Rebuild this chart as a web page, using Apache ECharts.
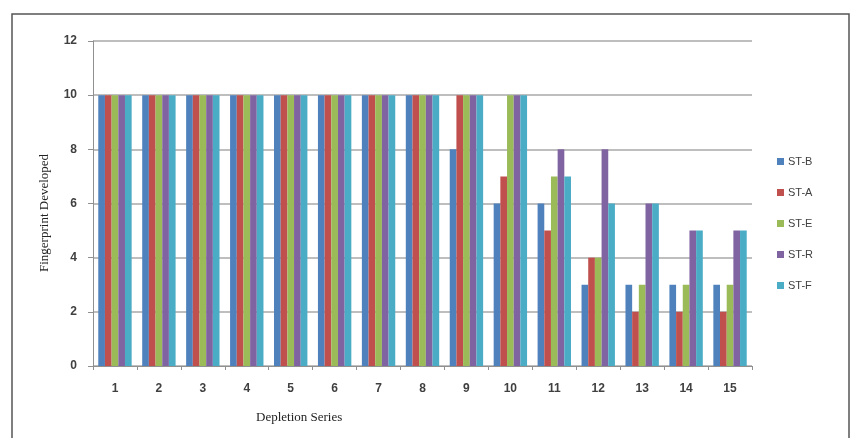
<!DOCTYPE html>
<html><head><meta charset="utf-8">
<script src="https://cdn.jsdelivr.net/npm/echarts@6/dist/echarts.min.js"></script>
<style>html,body{margin:0;padding:0;background:#fff}#c{width:854px;height:438px}</style>
</head><body><div id="c"></div>
<script>
const categories = ['1','2','3','4','5','6','7','8','9','10','11','12','13','14','15'];
const seriesNames = ['ST-B','ST-A','ST-E','ST-R','ST-F'];
const stB = [10,10,10,10,10,10,10,10,8,6,6,3,3,3,3];
const stA = [10,10,10,10,10,10,10,10,10,7,5,4,2,2,2];
const stE = [10,10,10,10,10,10,10,10,10,10,7,4,3,3,3];
const stR = [10,10,10,10,10,10,10,10,10,10,8,8,6,5,5];
const stF = [10,10,10,10,10,10,10,10,10,10,7,6,6,5,5];
const values = [stB, stA, stE, stR, stF];
const colors = ['#4F81BD','#C0504D','#9BBB59','#8064A2','#4BACC6'];

const chart = echarts.init(document.getElementById('c'), null, {renderer:'canvas'});
chart.setOption({
  animation:false,
  backgroundColor:'#fff',
  color: colors,
  grid:{left:93, right:102, top:41, bottom:72, containLabel:false},
  legend:{
    orient:'vertical', left:772, top:151, itemGap:20, itemWidth:7, itemHeight:7,
    icon:'rect',
    textStyle:{fontFamily:'Liberation Sans', fontSize:11, color:'#404040', padding:[0,0,0,-1]},
    data: seriesNames
  },
  xAxis:{
    type:'category', data:categories,
    axisLine:{lineStyle:{color:'#909090', width:1}},
    axisTick:{show:true, length:4, lineStyle:{color:'#909090'}},
    axisLabel:{fontFamily:'Liberation Sans', fontSize:12, fontWeight:'bold', color:'#404040', margin:17}
  },
  yAxis:{
    type:'value', min:0, max:12, interval:2,
    axisLine:{show:true, lineStyle:{color:'#909090', width:1}},
    axisTick:{show:true, length:5, lineStyle:{color:'#909090'}},
    axisLabel:{fontFamily:'Liberation Sans', fontSize:12, fontWeight:'bold', color:'#404040', margin:16},
    splitLine:{lineStyle:{color:'#a8a8a8', width:1.5}}
  },
  series: seriesNames.map((n,i)=>({
    name:n, type:'bar', data:values[i], barGap:'0%', barCategoryGap:'24%',
    itemStyle:{color:colors[i]}
  })),
  graphic:[
    {type:'rect', shape:{x:12, y:14, width:837, height:440}, style:{fill:'none', stroke:'#555', lineWidth:1.5}, z:-1},
    {type:'text', left:256, top:411, style:{text:'Depletion Series', font:'13px "Liberation Serif"', fill:'#222'}},
    {type:'text', x:38, y:272, rotation:Math.PI/2, style:{text:'Fingerprint Developed', font:'13px "Liberation Serif"', fill:'#222'}}
  ]
});
</script></body></html>
